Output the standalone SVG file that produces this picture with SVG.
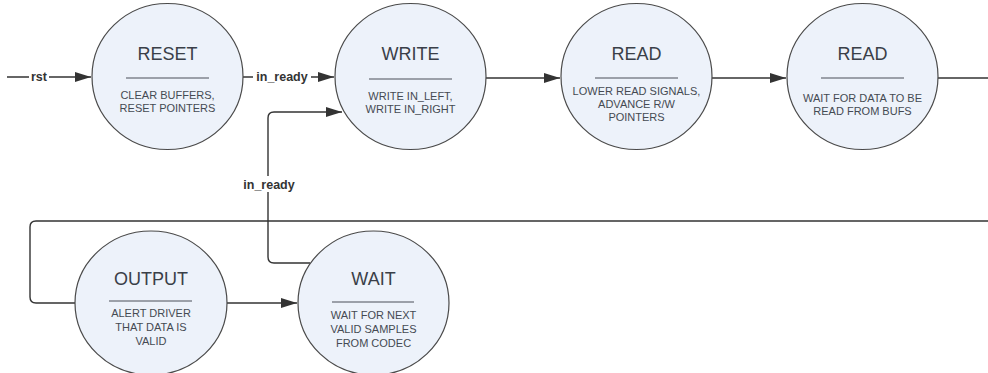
<svg xmlns="http://www.w3.org/2000/svg" width="988" height="373" viewBox="0 0 988 373">
<style>
.st{fill:#edf2fa;stroke:#4a4a4a;stroke-width:1.2}
.t{font-family:"Liberation Sans",Arial,sans-serif;font-size:18px;fill:#3a3f48;text-anchor:middle}
.d{font-family:"Liberation Sans",Arial,sans-serif;font-size:11px;fill:#454a52;text-anchor:middle}
.sep{stroke:#4a4f58;stroke-width:1}
.c{fill:none;stroke:#333;stroke-width:1.4}
.lbl{font-family:"Liberation Sans",Arial,sans-serif;font-size:12.5px;font-weight:bold;fill:#333;text-anchor:middle}
.bg{fill:#fff}
</style>
<defs>
<marker id="ah" viewBox="0 0 16 10" refX="16" refY="5" markerWidth="16" markerHeight="10" markerUnits="userSpaceOnUse" orient="auto">
<path d="M0,0 L16,5 L0,10 z" fill="#333"/>
</marker>
</defs>
<rect width="988" height="373" fill="#fff"/>
<g id="connectors">
<path class="c" d="M7,77 H91" marker-end="url(#ah)"/>
<rect class="bg" x="29" y="68" width="20" height="16"/>
<text class="lbl" x="39" y="81">rst</text>
<path class="c" d="M243,77 H334" marker-end="url(#ah)"/>
<rect class="bg" x="253" y="68" width="58" height="16"/>
<text class="lbl" x="282" y="81">in_ready</text>
<path class="c" d="M486,78 H560" marker-end="url(#ah)"/>
<path class="c" d="M712,78 H786" marker-end="url(#ah)"/>
<path class="c" d="M938,78 H988"/>
<path class="c" d="M988,221 H36 Q30,221 30,227 V297 Q30,303 36,303 H75"/>
<path class="c" d="M227,303 H297" marker-end="url(#ah)"/>
<path class="c" d="M310,263 H274 Q268,263 268,257 V118 Q268,112 274,112 H342" marker-end="url(#ah)"/>
<rect class="bg" x="240" y="176" width="58" height="16"/>
<text class="lbl" x="269" y="189">in_ready</text>
</g>
<g id="reset">
<ellipse class="st" cx="167.5" cy="76.5" rx="75.5" ry="73"/>
<text class="t" x="167.5" y="60">RESET</text>
<line class="sep" x1="126" y1="78" x2="209" y2="78"/>
<text class="d" x="167.5" y="99">CLEAR BUFFERS,</text>
<text class="d" x="167.5" y="112">RESET POINTERS</text>
</g>
<g id="write">
<ellipse class="st" cx="410.5" cy="76.5" rx="75.5" ry="73"/>
<text class="t" x="410.5" y="60">WRITE</text>
<line class="sep" x1="369" y1="79" x2="452" y2="79"/>
<text class="d" x="410.5" y="100">WRITE IN_LEFT,</text>
<text class="d" x="410.5" y="113">WRITE IN_RIGHT</text>
</g>
<g id="read1">
<ellipse class="st" cx="636.5" cy="76.5" rx="75.5" ry="73"/>
<text class="t" x="636.5" y="60">READ</text>
<line class="sep" x1="595" y1="78" x2="678" y2="78"/>
<text class="d" x="636.5" y="95">LOWER READ SIGNALS,</text>
<text class="d" x="636.5" y="108">ADVANCE R/W</text>
<text class="d" x="636.5" y="121">POINTERS</text>
</g>
<g id="read2">
<ellipse class="st" cx="862.5" cy="76.5" rx="75.5" ry="73"/>
<text class="t" x="862.5" y="60">READ</text>
<line class="sep" x1="821" y1="78" x2="904" y2="78"/>
<text class="d" x="862.5" y="102">WAIT FOR DATA TO BE</text>
<text class="d" x="862.5" y="115">READ FROM BUFS</text>
</g>
<g id="output">
<ellipse class="st" cx="151" cy="303" rx="76" ry="72"/>
<text class="t" x="151" y="285">OUTPUT</text>
<line class="sep" x1="109" y1="301" x2="192" y2="301"/>
<text class="d" x="151" y="317">ALERT DRIVER</text>
<text class="d" x="151" y="331">THAT DATA IS</text>
<text class="d" x="151" y="345">VALID</text>
</g>
<g id="wait">
<ellipse class="st" cx="373.5" cy="303" rx="75.5" ry="72"/>
<text class="t" x="373.5" y="285">WAIT</text>
<line class="sep" x1="332" y1="302" x2="414" y2="302"/>
<text class="d" x="373.5" y="319">WAIT FOR NEXT</text>
<text class="d" x="373.5" y="333">VALID SAMPLES</text>
<text class="d" x="373.5" y="347">FROM CODEC</text>
</g>
</svg>
